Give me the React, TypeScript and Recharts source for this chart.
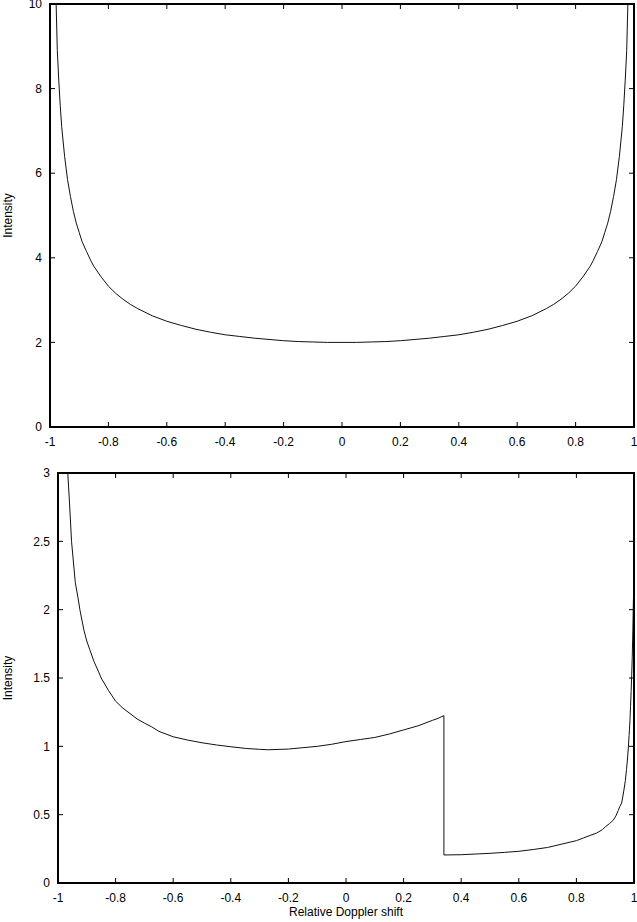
import React from 'react';
import { LineChart, Line, XAxis, YAxis } from 'recharts';

// tick values
const xTicks = [-1, -0.8, -0.6, -0.4, -0.2, 0, 0.2, 0.4, 0.6, 0.8, 1];
const topYTicks = [0, 2, 4, 6, 8, 10];
const bottomYTicks = [0, 0.5, 1, 1.5, 2, 2.5, 3];

// upper panel
const topShift = [
  -0.979, -0.975, -0.97, -0.965, -0.96, -0.95, -0.94, -0.93, -0.92, -0.91, -0.9, -0.89, -0.875, -0.86,
  -0.85, -0.825, -0.8, -0.775, -0.75, -0.725, -0.7, -0.65, -0.6, -0.55, -0.5, -0.45, -0.4, -0.35, -0.3,
  -0.25, -0.2, -0.15, -0.1, -0.05, 0, 0.05, 0.1, 0.15, 0.2, 0.25, 0.3, 0.35, 0.4, 0.45, 0.5, 0.55, 0.6,
  0.65, 0.7, 0.725, 0.75, 0.775, 0.8, 0.825, 0.85, 0.86, 0.875, 0.89, 0.9, 0.91, 0.92, 0.93, 0.94, 0.95,
  0.96, 0.965, 0.97, 0.975, 0.979,
];
const topIntensity = [
  10.0, 8.9, 8.2, 7.6, 7.1, 6.4, 5.85, 5.45, 5.1, 4.82, 4.6, 4.38, 4.15, 3.93,
  3.8, 3.55, 3.33, 3.16, 3.02, 2.9, 2.8, 2.63, 2.5, 2.4, 2.31, 2.24, 2.18, 2.14, 2.1,
  2.07, 2.04, 2.02, 2.01, 2.0, 2.0, 2.0, 2.01, 2.02, 2.04, 2.07, 2.1, 2.14, 2.18, 2.24, 2.31, 2.4, 2.5,
  2.63, 2.8, 2.9, 3.02, 3.16, 3.33, 3.55, 3.8, 3.93, 4.15, 4.38, 4.6, 4.82, 5.1, 5.45, 5.85, 6.4,
  7.1, 7.6, 8.2, 8.9, 10.0,
];

// lower panel
const bottomShift = [
  -0.966, -0.96, -0.953, -0.94, -0.93, -0.924, -0.91, -0.9, -0.89, -0.875, -0.86, -0.85, -0.825, -0.8,
  -0.775, -0.75, -0.725, -0.7, -0.675, -0.65, -0.6, -0.55, -0.5, -0.45, -0.4, -0.35, -0.3, -0.27, -0.2,
  -0.15, -0.1, -0.05, 0, 0.05, 0.1, 0.15, 0.2, 0.25, 0.3, 0.32, 0.34, 0.34, 0.4, 0.45, 0.5, 0.55, 0.6,
  0.65, 0.7, 0.75, 0.8, 0.825, 0.85, 0.87, 0.89, 0.9, 0.915, 0.928, 0.937, 0.945, 0.951, 0.957, 0.961,
  0.965, 0.97, 0.974, 0.977, 0.98, 0.983, 0.986, 0.988, 0.99, 0.992, 0.994, 0.996, 0.998,
];
const bottomIntensity = [
  3.0, 2.78, 2.5, 2.2, 2.08, 2.0, 1.85, 1.77, 1.71, 1.62, 1.55, 1.5, 1.41, 1.33,
  1.28, 1.24, 1.2, 1.17, 1.143, 1.11, 1.07, 1.046, 1.026, 1.01, 0.997, 0.985, 0.978, 0.975, 0.98,
  0.99, 1.0, 1.015, 1.035, 1.05, 1.065, 1.09, 1.12, 1.15, 1.19, 1.205, 1.225, 0.205, 0.207, 0.212, 0.217, 0.224, 0.232,
  0.245, 0.26, 0.285, 0.31, 0.33, 0.35, 0.365, 0.39, 0.41, 0.435, 0.46, 0.49, 0.53, 0.56, 0.585, 0.63,
  0.68, 0.75, 0.83, 0.9, 0.98, 1.08, 1.19, 1.29, 1.4, 1.52, 1.66, 1.85, 2.08,
];

const topData = topShift.map((x, i) => ({ x, y: topIntensity[i] }));
const bottomData = bottomShift.map((x, i) => ({ x, y: bottomIntensity[i] }));

const FONT = '"Liberation Sans", Arial, Helvetica, sans-serif';
const TICK_LEN = 5;
const X_GAP = 10;
const Y_GAP = 8;

function YTitle(props: any) {
  const vb = props.viewBox || {};
  const cy = vb.y + vb.height / 2;
  return (
    <text x={12} y={cy} transform={`rotate(-90, 12, ${cy})`} textAnchor="middle" fontSize={12} fontFamily={FONT} fill="#000">
      Intensity
    </text>
  );
}

function XTitle(props: any) {
  const vb = props.viewBox || {};
  return (
    <text x={vb.x + vb.width / 2} y={456} textAnchor="middle" fontSize={12} fontFamily={FONT} fill="#000">
      Relative Doppler shift
    </text>
  );
}

// label below the axis plus inward ticks on bottom and top edges;
// the first tick also draws the box round the plot
function XTick(props: any) {
  const { x, y, payload, index, plotH, plotW } = props;
  const axisY = y - X_GAP;
  return (
    <g>
      {index === 0 && (
        <rect x={x} y={axisY - plotH} width={plotW} height={plotH} fill="none" stroke="#000" strokeWidth={2} />
      )}
      <path
        d={`M${x},${axisY}V${axisY - TICK_LEN}M${x},${axisY - plotH}V${axisY - plotH + TICK_LEN}`}
        stroke="#000"
        strokeWidth={1}
        fill="none"
      />
      <text x={x} y={y} dy="0.71em" textAnchor="middle" fontSize={12} fontFamily={FONT} fill="#000">
        {String(payload.value)}
      </text>
    </g>
  );
}

// label left of the axis plus inward ticks on left and right edges
function YTick(props: any) {
  const { x, y, payload, plotW } = props;
  const axisX = x + Y_GAP;
  return (
    <g>
      <path
        d={`M${axisX},${y}H${axisX + TICK_LEN}M${axisX + plotW},${y}H${axisX + plotW - TICK_LEN}`}
        stroke="#000"
        strokeWidth={1}
        fill="none"
      />
      <text x={x} y={y} dy="0.355em" textAnchor="end" fontSize={12} fontFamily={FONT} fill="#000">
        {String(payload.value)}
      </text>
    </g>
  );
}

interface PanelProps {
  data: { x: number; y: number }[];
  yTicks: number[];
  yMax: number;
  height: number;
  margin: { top: number; right: number; bottom: number; left: number };
  yWidth: number;
  xHeight: number;
  xTitle?: boolean;
}

function Panel({ data, yTicks, yMax, height, margin, yWidth, xHeight, xTitle }: PanelProps) {
  const plotW = 637 - margin.left - margin.right - yWidth;
  const plotH = height - margin.top - margin.bottom - xHeight;
  return (
    <LineChart width={637} height={height} data={data} margin={margin}>
      <XAxis
        dataKey="x"
        type="number"
        domain={[-1, 1]}
        ticks={xTicks}
        allowDataOverflow
        height={xHeight}
        axisLine={false}
        tickLine={false}
        tickSize={0}
        tickMargin={X_GAP}
        tick={(p: any) => <XTick {...p} plotH={plotH} plotW={plotW} />}
        interval={0}
        label={xTitle ? { content: (p: any) => <XTitle {...p} /> } : undefined}
      />
      <YAxis
        type="number"
        domain={[0, yMax]}
        ticks={yTicks}
        allowDataOverflow
        width={yWidth}
        axisLine={false}
        tickLine={false}
        tickSize={0}
        tickMargin={Y_GAP}
        tick={(p: any) => <YTick {...p} plotW={plotW} />}
        interval={0}
        label={{ content: (p: any) => <YTitle {...p} /> }}
      />
      <Line
        type="linear"
        dataKey="y"
        stroke="#111"
        strokeWidth={1}
        dot={false}
        activeDot={false}
        isAnimationActive={false}
      />
    </LineChart>
  );
}

export default function App() {
  return (
    <div style={{ position: 'absolute', left: 0, top: 0, width: 637, height: 922, background: '#fff', fontFamily: FONT }}>
      <Panel
        data={topData}
        yTicks={topYTicks}
        yMax={10}
        height={460}
        margin={{ top: 4, right: 3, bottom: 3, left: 0 }}
        yWidth={50}
        xHeight={30}
      />
      <Panel
        data={bottomData}
        yTicks={bottomYTicks}
        yMax={3}
        height={462}
        margin={{ top: 13, right: 3, bottom: 0, left: 0 }}
        yWidth={58}
        xHeight={39}
        xTitle
      />
    </div>
  );
}
